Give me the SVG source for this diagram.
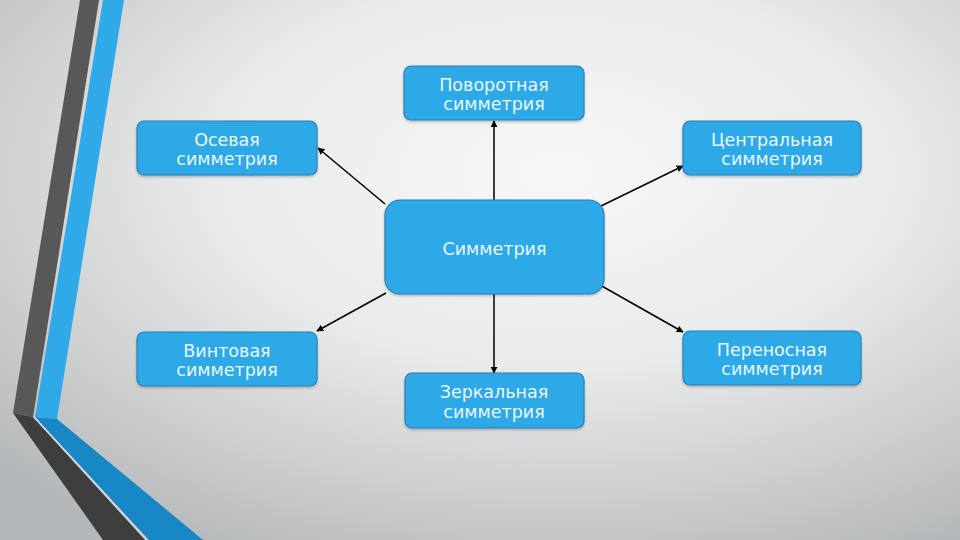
<svg xmlns="http://www.w3.org/2000/svg" width="960" height="540" viewBox="0 0 960 540">
<defs>
<radialGradient id="bg" cx="0.58" cy="0.32" r="0.8">
<stop offset="0" stop-color="#f7f7f7"/>
<stop offset="0.45" stop-color="#e9eaea"/>
<stop offset="1" stop-color="#b4b7b9"/>
</radialGradient>
<marker id="ah" viewBox="0 0 10 10" refX="9" refY="5" markerWidth="7" markerHeight="7" markerUnits="userSpaceOnUse" orient="auto">
<path d="M0,0 L10,5 L0,10 z" fill="#000"/>
</marker>
<filter id="sh" x="-5%" y="-10%" width="110%" height="130%">
<feDropShadow dx="0" dy="1.5" stdDeviation="1" flood-color="#000" flood-opacity="0.25"/>
</filter>
</defs>
<style>
.box{fill:#2fa9e8;stroke:#2b7fb6;stroke-width:1.2;filter:url(#sh)}
.t{font-family:"DejaVu Sans",Verdana,sans-serif;font-size:17.5px;fill:#eaf6fc;text-anchor:middle}
.c{stroke:#000;stroke-width:1.5;fill:none;marker-end:url(#ah)}
</style>
<rect width="960" height="540" fill="url(#bg)"/>
<g id="stripes">
<polygon points="80,0 99,0 33,417 13,413" fill="#585858"/>
<polygon points="13,413 33,417 145,540 103,540" fill="#3e3e3e"/>
<polygon points="103,0 124,0 57,419 35,417" fill="#30a9e8"/>
<polygon points="35,417 57,419 203,540 149,540" fill="#1887c6"/>
<line x1="34" y1="417" x2="147" y2="540" stroke="#d6dadd" stroke-width="1.5"/>
</g>
<g id="connectors">
<line class="c" x1="494" y1="200" x2="494" y2="121"/>
<line class="c" x1="385" y1="204" x2="318" y2="148"/>
<line class="c" x1="599" y1="207" x2="683" y2="166"/>
<line class="c" x1="386" y1="293" x2="317" y2="331"/>
<line class="c" x1="600" y1="285" x2="683" y2="332"/>
<line class="c" x1="494" y1="294" x2="494" y2="373"/>
</g>
<g id="center">
<rect class="box" x="385" y="200" width="219" height="94" rx="15"/>
<text class="t" x="494.5" y="255">Симметрия</text>
</g>
<g id="povorotnaya">
<rect class="box" x="404" y="66" width="180" height="54" rx="7"/>
<text class="t" x="494" y="91">Поворотная</text>
<text class="t" x="494" y="110">симметрия</text>
</g>
<g id="osevaya">
<rect class="box" x="137" y="121" width="180" height="54" rx="7"/>
<text class="t" x="227" y="146">Осевая</text>
<text class="t" x="227" y="165">симметрия</text>
</g>
<g id="centralnaya">
<rect class="box" x="683" y="121" width="178" height="54" rx="7"/>
<text class="t" x="772" y="146">Центральная</text>
<text class="t" x="772" y="165">симметрия</text>
</g>
<g id="vintovaya">
<rect class="box" x="137" y="332" width="180" height="54" rx="7"/>
<text class="t" x="227" y="357">Винтовая</text>
<text class="t" x="227" y="376">симметрия</text>
</g>
<g id="perenosnaya">
<rect class="box" x="683" y="331" width="178" height="54" rx="7"/>
<text class="t" x="772" y="356">Переносная</text>
<text class="t" x="772" y="375">симметрия</text>
</g>
<g id="zerkalnaya">
<rect class="box" x="405" y="373" width="179" height="55" rx="7"/>
<text class="t" x="494" y="398">Зеркальная</text>
<text class="t" x="494" y="418">симметрия</text>
</g>
</svg>
